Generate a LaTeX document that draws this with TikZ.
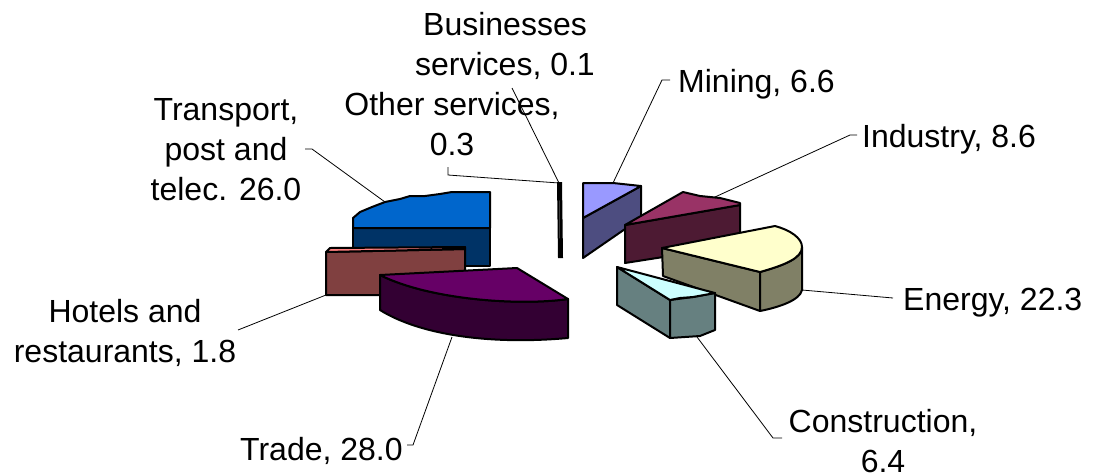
\documentclass[tikz,border=0pt]{standalone}
\usepackage{fontspec}
\setmainfont{Liberation Sans}
\usetikzlibrary{positioning}

% slice colours (top face / side face)
\definecolor{minTop}{HTML}{9999FF}
\definecolor{minSide}{HTML}{4D4D80}
\definecolor{indTop}{HTML}{993366}
\definecolor{indSide}{HTML}{4D1A33}
\definecolor{eneTop}{HTML}{FFFFCC}
\definecolor{eneSide}{HTML}{808066}
\definecolor{conTop}{HTML}{CCFFFF}
\definecolor{conSide}{HTML}{668080}
\definecolor{trdTop}{HTML}{660066}
\definecolor{trdSide}{HTML}{330033}
\definecolor{hotTop}{HTML}{FF8080}
\definecolor{hotSide}{HTML}{804040}
\definecolor{trnTop}{HTML}{0066CC}
\definecolor{trnSide}{HTML}{003366}

\tikzset{
  piece/.style={draw=black,line width=2pt,line join=round},
  leader/.style={draw=black,line width=0.8pt},
  lbl/.style={inner sep=0pt,align=center,font=\fontsize{32}{40}\selectfont}
}

\begin{document}
\begin{tikzpicture}[x=1pt,y=-1pt]
\useasboundingbox (0,0) rectangle (1094,472);

% labels (base = baseline of the last line)
\node[lbl,anchor=base] (busLbl) at (505,75) {Businesses\\services, 0.1};
\node[lbl,anchor=base] (othLbl) at (452,155) {Other services,\\0.3};
\node[lbl,anchor=base] (trnLbl) at (226,200) {Transport,\\post and\\telec. 26.0};
\node[lbl,anchor=base west] (minLbl) at (678,92) {Mining, 6.6};
\node[lbl,anchor=base west] (indLbl) at (862,147) {Industry, 8.6};
\node[lbl,anchor=base west] (eneLbl) at (903,310) {Energy, 22.3};
\node[lbl,anchor=base] (conLbl) at (883,472) {Construction,\\6.4};
\node[lbl,anchor=base] (hotLbl) at (125,362) {Hotels and\\restaurants, 1.8};
\node[lbl,anchor=base west] (trdLbl) at (240,460) {Trade, 28.0};

% leader ends
\coordinate (busTick) at (512,88);
\coordinate (othTick) at (448,167);
\coordinate (othKnee) at (448,175);
\coordinate (sliverTop) at (559,183);
\coordinate (trnTick) at (305,149);
\coordinate (trnKnee) at (312,149);
\coordinate (trnPt) at (385,202);
\coordinate (minTick) at (670,80);
\coordinate (minKnee) at (662,80);
\coordinate (minPt) at (613,183);
\coordinate (indTick) at (857,135);
\coordinate (indKnee) at (850,135);
\coordinate (indPt) at (715,197);
\coordinate (eneTick) at (893,298);
\coordinate (enePt) at (802,290);
\coordinate (conTick) at (782,438);
\coordinate (conKnee) at (773,438);
\coordinate (conPt) at (697,337);
\coordinate (hotTick) at (238,330);
\coordinate (hotPt) at (326,295);
\coordinate (trdTick) at (407,445);
\coordinate (trdKnee) at (413,445);
\coordinate (trdPt) at (452,337);

\draw[leader] (busTick) -- (sliverTop);
\draw[leader] (othTick) -- (othKnee) -- (sliverTop);
\draw[leader] (trnTick) -- (trnKnee) -- (trnPt);
\draw[leader] (minTick) -- (minKnee) -- (minPt);
\draw[leader] (indTick) -- (indKnee) -- (indPt);
\draw[leader] (eneTick) -- (enePt);
\draw[leader] (conTick) -- (conKnee) -- (conPt);
\draw[leader] (hotTick) -- (hotPt);
\draw[leader] (trdTick) -- (trdKnee) -- (trdPt);

% transport
\draw[piece,fill=trnSide] (353,228) -- (490,228) -- (490,266) -- (353,266) -- cycle;
\draw[piece,fill=trnTop] (353,228) -- (353,218) -- (360,212) -- (372,207) -- (385,202)
  -- (400,199) -- (410,196) -- (425,196) -- (440,194) -- (452,192) -- (470,192)
  -- (490,192) -- (490,228) -- cycle;

% hotels and restaurants
\draw[piece,fill=hotSide] (326,252) -- (465,249) -- (465,295) -- (326,295) -- cycle;
\draw[piece,fill=hotTop] (326,252) -- (330,248) -- (465,247) -- (465,249) -- cycle;

% trade
\draw[piece,fill=trdSide] (380,275) -- (380,310) .. controls (420,335) and (490,345) .. (568,338)
  -- (568,299) .. controls (520,306) and (430,300) .. (380,275) -- cycle;
\draw[piece,fill=trdTop] (380,275) -- (517,268) -- (568,299)
  .. controls (520,306) and (430,300) .. (380,275) -- cycle;

% other services and businesses services
\fill[black] (557,182) -- (559,182) -- (560,258) -- (558,258) -- cycle;
\fill[black] (559,182) -- (562,182) -- (563,258) -- (560,258) -- cycle;

% mining
\draw[piece,fill=minSide] (583,218) -- (641,186) -- (641,218) -- (583,258) -- cycle;
\draw[piece,fill=minTop] (583,183) -- (613,183) -- (641,186) -- (583,218) -- cycle;

% industry
\draw[piece,fill=indSide] (625,225) -- (740,205) -- (740,245) -- (625,263) -- cycle;
\draw[piece,fill=indTop] (625,225) -- (683,192) -- (700,196) -- (720,198) -- (740,203)
  -- (740,205) -- cycle;

% energy
\draw[piece,fill=eneSide] (662,248) -- (760,272) -- (760,311) -- (663,276) -- cycle;
\draw[piece,fill=eneSide] (760,272) .. controls (785,265) and (802,258) .. (802,247)
  -- (802,290) .. controls (800,300) and (780,307) .. (760,311) -- cycle;
\draw[piece,fill=eneTop] (662,248) -- (775,226) .. controls (790,230) and (802,238) .. (802,247)
  .. controls (802,258) and (785,265) .. (760,272) -- cycle;

% construction
\draw[piece,fill=conSide] (617,267) -- (670,300) -- (670,338) -- (617,305) -- cycle;
\draw[piece,fill=conSide] (670,300) -- (693,297) -- (715,293) -- (715,330) -- (700,336)
  -- (670,338) -- cycle;
\draw[piece,fill=conTop] (617,267) -- (715,293) -- (693,297) -- (680,298) -- (670,300) -- cycle;
\end{tikzpicture}
\end{document}
